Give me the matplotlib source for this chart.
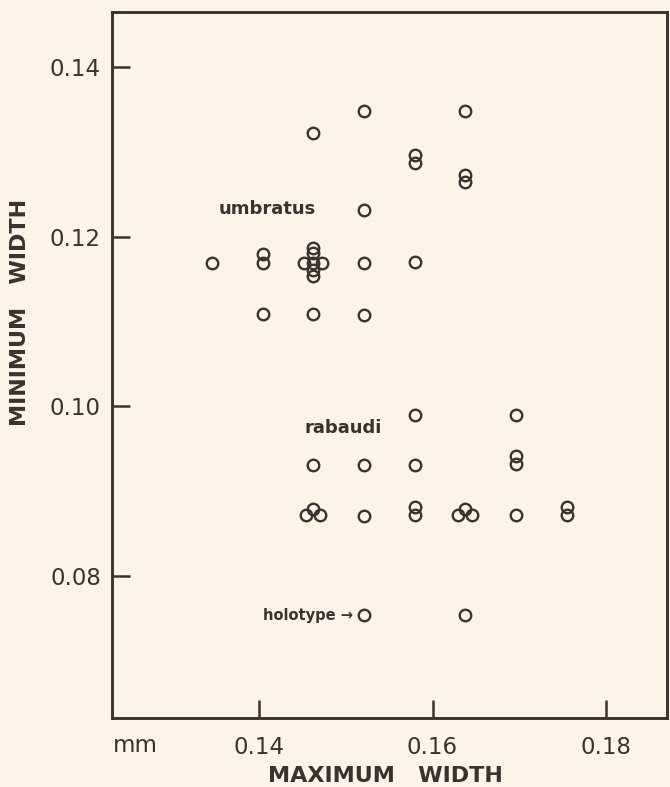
import matplotlib
matplotlib.use("Agg")
import matplotlib.pyplot as plt

# ---- data (maximum width, minimum width) in mm ----
umbratus_x = [0.1521, 0.1637, 0.1462, 0.1580, 0.1580, 0.1637, 0.1637, 0.1521,
              0.1346, 0.1404, 0.1404,
              0.1462, 0.1452, 0.1472, 0.1462, 0.1462, 0.1462, 0.1462,
              0.1521, 0.1580,
              0.1404, 0.1462, 0.1521]
umbratus_y = [0.1348, 0.1348, 0.1322, 0.1296, 0.1287, 0.1273, 0.1264, 0.1231,
              0.1169, 0.1180, 0.1169,
              0.1169, 0.1169, 0.1169, 0.1181, 0.1187, 0.1161, 0.1154,
              0.1169, 0.1170,
              0.1109, 0.1109, 0.1108]

rabaudi_x = [0.1580, 0.1696,
             0.1462, 0.1521, 0.1580, 0.1696, 0.1696,
             0.1454, 0.1462, 0.1470, 0.1521, 0.1580, 0.1580,
             0.1629, 0.1637, 0.1645, 0.1696, 0.1755, 0.1755,
             0.1521, 0.1637]
rabaudi_y = [0.0990, 0.0990,
             0.0931, 0.0931, 0.0931, 0.0941, 0.0932,
             0.0872, 0.0879, 0.0872, 0.0871, 0.0881, 0.0872,
             0.0872, 0.0879, 0.0872, 0.0872, 0.0881, 0.0872,
             0.0754, 0.0754]

x_ticks = [0.14, 0.16, 0.18]
x_tick_labels = ["0.14", "0.16", "0.18"]
y_ticks = [0.08, 0.10, 0.12, 0.14]
y_tick_labels = ["0.08", "0.10", "0.12", "0.14"]

INK = "#3a322e"
BG = "#fdf3e6"

plt.rcParams['font.family'] = ['DejaVu Sans']

fig = plt.figure(figsize=(6.70, 7.87), dpi=100, facecolor=BG)
ax = fig.add_axes([0.1672, 0.0877, 0.8283, 0.8971])
ax.set_facecolor(BG)

mk = dict(linestyle="none", marker="o", markersize=8.3, markerfacecolor="none",
          markeredgecolor=INK, markeredgewidth=1.7)
ax.plot(umbratus_x, umbratus_y, **mk)
ax.plot(rabaudi_x, rabaudi_y, **mk)

ax.set_xlim(0.12305, 0.18703)
ax.set_ylim(0.06326, 0.1465)

ax.set_xticks(x_ticks)
ax.set_xticklabels(x_tick_labels)
ax.set_yticks(y_ticks)
ax.set_yticklabels(y_tick_labels)
ax.tick_params(direction="in", length=13, width=1.8, color=INK,
               labelsize=16.5, labelcolor=INK)
ax.tick_params(axis="y", pad=8)
ax.tick_params(axis="x", pad=13)

for s in ax.spines.values():
    s.set_linewidth(2.1)
    s.set_color(INK)

# annotations
ax.text(0.1409, 0.1233, "umbratus", fontsize=13, color=INK, ha="center",
        va="center", fontweight="semibold")
ax.text(0.1497, 0.0974, "rabaudi", fontsize=13, color=INK, ha="center",
        va="center", fontweight="semibold")
ax.text(0.1508, 0.0754, "holotype \u2192", fontsize=10.5, color=INK, ha="right",
        va="center", fontweight="bold")

# axis labels
fig.text(135 / 670, 1 - 745 / 787, "mm", fontsize=16.5, color=INK,
         ha="center", va="center")
fig.text(385 / 670, 1 - 776 / 787, "MAXIMUM   WIDTH", fontsize=16, color=INK,
         ha="center", va="center", fontweight="bold")
fig.text(20 / 670, 1 - 312 / 787, "MINIMUM   WIDTH", fontsize=16, color=INK,
         ha="center", va="center", fontweight="bold", rotation=90)

fig.savefig("out.png", dpi=100, facecolor=BG)
